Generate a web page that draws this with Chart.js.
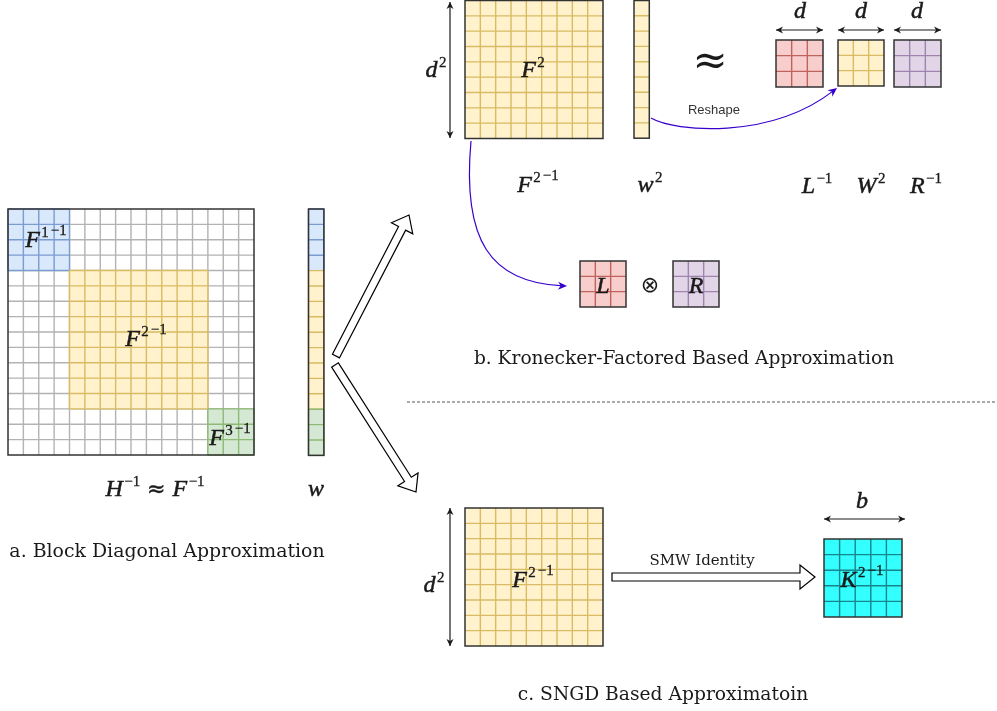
<!DOCTYPE html>
<html>
<head>
<meta charset="utf-8">
<script src="https://cdn.jsdelivr.net/npm/chart.js@4.4.1/dist/chart.umd.min.js"></script>
<style>
  html, body { margin: 0; padding: 0; background: #fff; }
  canvas { display: block; }
</style>
</head>
<body>
<canvas id="diagram" width="997" height="711"></canvas>
<script>
// ========== データ ==========
// 行列・ベクトルのグリッド（座標はキャンバスと同じ単位）
const gridNames = ['H', 'w', 'F2', 'w2', 'Linv', 'W2', 'Rinv', 'L', 'R', 'F2inv', 'K'];
const gridCols  = [16, 1, 9, 1, 3, 3, 3, 3, 3, 9, 5];
const gridRows  = [16, 16, 9, 9, 3, 3, 3, 3, 3, 9, 5];
const gridLeft  = [8, 308.5, 465, 634, 776, 838, 894, 580, 673, 465, 824];
const gridTop   = [209, 209, 0.5, 0.5, 40, 40, 40, 261, 261, 508, 539];
const gridWidth = [246, 15.4, 138, 15.3, 47, 46, 47, 46, 46, 138, 78];
const gridTheme = ['plain', 'plain', 'yellow', 'yellow', 'red', 'yellow', 'purple', 'red', 'purple', 'yellow', 'cyan'];

// ブロック対角（H と w で共通）
const blockStart = [0, 4, 13];
const blockLen   = [4, 9, 3];
const blockTheme = ['blue', 'yellow', 'green'];

// 寸法矢印（両端）
const dimX1 = [450, 450, 776, 838, 894, 824];
const dimY1 = [2, 508, 30, 30, 30, 519];
const dimX2 = [450, 450, 823, 884, 941, 905];
const dimY2 = [138, 646, 30, 30, 30, 519];

// 白抜き矢印
const bigFrom = [[336, 356], [335, 365], [612, 577]];
const bigTo   = [[409, 215], [416, 492], [815, 577]];

// 青い曲線矢印（3次ベジェ）
const curves = [
  [[471, 141], [462, 240], [490, 283], [567, 286]],
  [[651, 118], [675, 132], [770, 140], [837, 88]],
];

// 点線の区切り
const dashFrom = [407, 402];
const dashTo   = [996, 402];

// 数式ラベル [文字, レベル]  0=本体 1=上付き 2=上付きの上付き
const mathSegs = [
  [['F', 0], ['1', 1], ['−1', 2]],
  [['F', 0], ['2', 1], ['−1', 2]],
  [['F', 0], ['3', 1], ['−1', 2]],
  [['H', 0], ['−1', 1], [' ≈ ', 0], ['F', 0], ['−1', 1]],
  [['w', 0]],
  [['d', 0], ['2', 1]],
  [['F', 0], ['2', 1]],
  [['F', 0], ['2', 1], ['−1', 2]],
  [['w', 0], ['2', 1]],
  [['d', 0]], [['d', 0]], [['d', 0]],
  [['L', 0], ['−1', 1]],
  [['W', 0], ['2', 1]],
  [['R', 0], ['−1', 1]],
  [['L', 0]],
  [['R', 0]],
  [['d', 0], ['2', 1]],
  [['F', 0], ['2', 1], ['−1', 2]],
  [['b', 0]],
  [['K', 0], ['2', 1], ['−1', 2]],
];
const mathX = [46, 146, 230, 155, 316, 436, 533, 538, 650, 800, 861, 917, 817, 871, 926, 603, 696, 434, 533, 862, 862];
const mathY = [247, 346, 445, 496, 496, 77, 77, 192, 192, 18, 18, 18, 193, 193, 193, 293, 293, 592, 587, 508, 587];

// 普通のテキスト
const textItems = ['a. Block Diagonal Approximation', 'b. Kronecker-Factored Based Approximation',
  'c. SNGD Based Approximatoin', 'SMW Identity', 'Reshape', '≈', '⊗'];
const textX = [167, 684, 663, 702, 714, 710, 650];
const textY = [557, 364, 700, 565, 114, 74, 292];
const textFont = ['18.9px "DejaVu Serif"', '18.6px "DejaVu Serif"', '18.7px "DejaVu Serif"',
  '15px "DejaVu Serif"', '13px "Liberation Sans"', '42px "DejaVu Serif"', '22px "DejaVu Sans"'];

// ========== スタイル ==========
const themes = {
  plain:  { fill: '#ffffff', line: '#b3b3b3' },
  blue:   { fill: '#dae8fc', line: '#7b9cd0' },
  yellow: { fill: '#fff2cc', line: '#d9bb63' },
  green:  { fill: '#d5e8d4', line: '#8dba75' },
  red:    { fill: '#f8cecc', line: '#c0625e' },
  purple: { fill: '#e1d5e7', line: '#a084b0' },
  cyan:   { fill: '#33ffff', line: '#17868c' },
};
const curveColor = '#3700cc';
const inkColor = '#1a1a1a';

// ========== 描画ヘルパー ==========
function cellLines(ctx, x0, y0, cw, ch, nc, nr, color, withBorder) {
  ctx.strokeStyle = color;
  ctx.lineWidth = 1.4;
  ctx.beginPath();
  const c0 = withBorder ? 0 : 1, c1 = withBorder ? nc : nc - 1;
  for (let c = c0; c <= c1; c++) { ctx.moveTo(x0 + c * cw, y0); ctx.lineTo(x0 + c * cw, y0 + nr * ch); }
  const r0 = withBorder ? 0 : 1, r1 = withBorder ? nr : nr - 1;
  for (let r = r0; r <= r1; r++) { ctx.moveTo(x0, y0 + r * ch); ctx.lineTo(x0 + nc * cw, y0 + r * ch); }
  ctx.stroke();
}

function drawGrid(ctx, i, px, py) {
  const cols = gridCols[i], rows = gridRows[i];
  const cell = gridWidth[i] / cols;
  const left = px(gridLeft[i]), top = py(gridTop[i]);
  const cw = px(gridLeft[i] + cell) - left;
  const ch = py(gridTop[i] + cell) - top;
  const th = themes[gridTheme[i]];
  ctx.fillStyle = th.fill;
  ctx.fillRect(left, top, cw * cols, ch * rows);
  cellLines(ctx, left, top, cw, ch, cols, rows, th.line, false);

  if (gridNames[i] === 'H' || gridNames[i] === 'w') {
    blockStart.forEach((s, b) => {
      const bt = themes[blockTheme[b]];
      const c0 = cols === 1 ? 0 : s;
      const nc = cols === 1 ? 1 : blockLen[b];
      ctx.fillStyle = bt.fill;
      ctx.fillRect(left + c0 * cw, top + s * ch, nc * cw, blockLen[b] * ch);
      cellLines(ctx, left + c0 * cw, top + s * ch, cw, ch, nc, blockLen[b], bt.line, true);
    });
  }
  ctx.strokeStyle = '#333';
  ctx.lineWidth = 1.5;
  ctx.strokeRect(left, top, cw * cols, ch * rows);
}

function arrowHead(ctx, tx, ty, dx, dy, len, half, color) {
  const l = Math.hypot(dx, dy);
  const ux = dx / l, uy = dy / l, nx = -uy, ny = ux;
  ctx.fillStyle = color;
  ctx.beginPath();
  ctx.moveTo(tx, ty);
  ctx.lineTo(tx - ux * len + nx * half, ty - uy * len + ny * half);
  ctx.lineTo(tx - ux * len * 0.7, ty - uy * len * 0.7);
  ctx.lineTo(tx - ux * len - nx * half, ty - uy * len - ny * half);
  ctx.closePath();
  ctx.fill();
}

function hollowArrow(ctx, a, b) {
  const dx = b[0] - a[0], dy = b[1] - a[1];
  const l = Math.hypot(dx, dy);
  const ux = dx / l, uy = dy / l, nx = -uy, ny = ux;
  const hw = 4, hh = 12, hl = 15;
  const bx = b[0] - ux * hl, by = b[1] - uy * hl;
  ctx.beginPath();
  ctx.moveTo(a[0] + nx * hw, a[1] + ny * hw);
  ctx.lineTo(bx + nx * hw, by + ny * hw);
  ctx.lineTo(bx + nx * hh, by + ny * hh);
  ctx.lineTo(b[0], b[1]);
  ctx.lineTo(bx - nx * hh, by - ny * hh);
  ctx.lineTo(bx - nx * hw, by - ny * hw);
  ctx.lineTo(a[0] - nx * hw, a[1] - ny * hw);
  ctx.closePath();
  ctx.fillStyle = '#fff';
  ctx.fill();
  ctx.strokeStyle = '#000';
  ctx.lineWidth = 1.2;
  ctx.stroke();
}

function segFont(t, lv, size) {
  if (lv === 0 && /[A-Za-z]/.test(t)) return `italic ${size}px "Liberation Serif"`;
  if (lv === 0) return `${size - 2}px "DejaVu Serif"`;
  return `${Math.round(size * 0.64)}px "Liberation Serif"`;
}

function drawMath(ctx, segs, cx, by, size) {
  const gapOf = k => {
    if (k === 0) return 0;
    if (segs[k][1] === 1 && segs[k - 1][1] === 0) return size * 0.06;
    if (segs[k][1] === 2) return size * 0.08;
    return 0;
  };
  const widths = segs.map(([t, lv], k) => {
    ctx.font = segFont(t, lv, size);
    return ctx.measureText(t).width + gapOf(k);
  });
  const total = widths.reduce((s, w) => s + w, 0);
  let x = cx - total / 2;
  ctx.fillStyle = inkColor;
  ctx.strokeStyle = inkColor;
  ctx.textAlign = 'left';
  ctx.textBaseline = 'alphabetic';
  segs.forEach(([t, lv], k) => {
    ctx.font = segFont(t, lv, size);
    const rise = lv === 0 ? 0 : lv === 1 ? size * 0.42 : size * 0.5;
    ctx.lineWidth = lv === 0 ? 0.5 : 0.3;
    ctx.fillText(t, x + gapOf(k), by - rise);
    ctx.strokeText(t, x + gapOf(k), by - rise);
    x += widths[k];
  });
}

// ========== プラグイン ==========
const diagramPlugin = {
  id: 'diagram',
  afterDatasetsDraw(chart) {
    const { ctx } = chart;
    const px = v => chart.scales.x.getPixelForValue(v);
    const py = v => chart.scales.y.getPixelForValue(v);
    ctx.save();

    gridNames.forEach((_, i) => drawGrid(ctx, i, px, py));

    // 寸法矢印
    dimX1.forEach((_, i) => {
      const x1 = px(dimX1[i]), y1 = py(dimY1[i]), x2 = px(dimX2[i]), y2 = py(dimY2[i]);
      ctx.strokeStyle = inkColor;
      ctx.lineWidth = 1.2;
      ctx.beginPath();
      ctx.moveTo(x1, y1);
      ctx.lineTo(x2, y2);
      ctx.stroke();
      arrowHead(ctx, x1, y1, x1 - x2, y1 - y2, 7, 3.5, inkColor);
      arrowHead(ctx, x2, y2, x2 - x1, y2 - y1, 7, 3.5, inkColor);
    });

    // 白抜き矢印
    bigFrom.forEach((a, i) => {
      hollowArrow(ctx, [px(a[0]), py(a[1])], [px(bigTo[i][0]), py(bigTo[i][1])]);
    });

    // 曲線矢印
    curves.forEach(c => {
      const p = c.map(q => [px(q[0]), py(q[1])]);
      ctx.strokeStyle = curveColor;
      ctx.lineWidth = 1.2;
      ctx.beginPath();
      ctx.moveTo(p[0][0], p[0][1]);
      ctx.bezierCurveTo(p[1][0], p[1][1], p[2][0], p[2][1], p[3][0] - (p[3][0] - p[2][0]) * 0.05, p[3][1] - (p[3][1] - p[2][1]) * 0.05);
      ctx.stroke();
      arrowHead(ctx, p[3][0], p[3][1], p[3][0] - p[2][0], p[3][1] - p[2][1], 9, 4, curveColor);
    });

    // 点線
    ctx.strokeStyle = '#555';
    ctx.lineWidth = 1;
    ctx.setLineDash([3, 2]);
    ctx.beginPath();
    ctx.moveTo(px(dashFrom[0]), py(dashFrom[1]));
    ctx.lineTo(px(dashTo[0]), py(dashTo[1]));
    ctx.stroke();
    ctx.setLineDash([]);

    // ラベル
    chart.getDatasetMeta(0).data.forEach((pt, i) => drawMath(ctx, mathSegs[i], pt.x, pt.y, 24));

    textItems.forEach((t, i) => {
      ctx.font = textFont[i];
      ctx.fillStyle = i === 4 ? '#333' : inkColor;
      ctx.textAlign = 'center';
      ctx.textBaseline = 'alphabetic';
      ctx.fillText(t, px(textX[i]), py(textY[i]));
    });

    ctx.restore();
  },
};

// ========== 初期化 ==========
const labelAnchors = mathX.map((x, i) => ({ x, y: mathY[i] }));

new Chart(document.getElementById('diagram'), {
  type: 'scatter',
  data: { datasets: [{ data: labelAnchors, pointRadius: 0, pointHoverRadius: 0 }] },
  options: {
    responsive: false,
    animation: false,
    devicePixelRatio: 1,
    layout: { padding: 0 },
    events: [],
    plugins: { legend: { display: false }, tooltip: { enabled: false } },
    scales: {
      x: { type: 'linear', min: 0, max: 997, display: false },
      y: { type: 'linear', min: 0, max: 711, reverse: true, display: false },
    },
  },
  plugins: [diagramPlugin],
});
</script>
</body>
</html>
